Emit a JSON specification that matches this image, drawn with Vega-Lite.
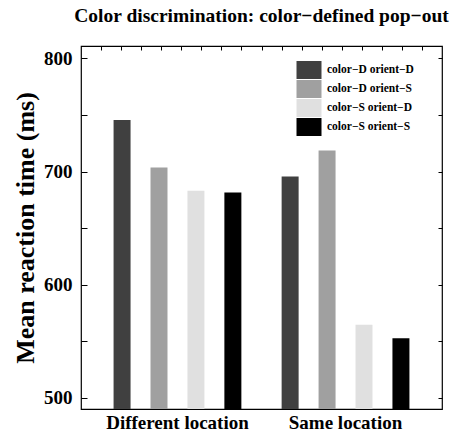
{
  "$schema": "https://vega.github.io/schema/vega-lite/v6.json",
  "autosize": "none",
  "padding": {"left": 81, "top": 46, "right": 8, "bottom": 37},
  "width": 361,
  "height": 363,
  "background": "white",
  "title": {
    "text": "Color discrimination: color−defined pop−out",
    "font": "Liberation Serif",
    "fontSize": 19.5,
    "fontWeight": "bold",
    "color": "black",
    "anchor": "middle",
    "offset": 19
  },
  "config": {
    "view": {"stroke": "black", "strokeWidth": 1.2},
    "axis": {"grid": false, "domain": false, "tickColor": "black", "labelColor": "black", "titleColor": "black"}
  },
  "data": {
    "values": [
      {"location": "Different location", "condition": "color−D orient−D", "rt": 745.5},
      {"location": "Different location", "condition": "color−D orient−S", "rt": 703.5},
      {"location": "Different location", "condition": "color−S orient−D", "rt": 683},
      {"location": "Different location", "condition": "color−S orient−S", "rt": 681.5},
      {"location": "Same location", "condition": "color−D orient−D", "rt": 695.5},
      {"location": "Same location", "condition": "color−D orient−S", "rt": 718.5},
      {"location": "Same location", "condition": "color−S orient−D", "rt": 564.5},
      {"location": "Same location", "condition": "color−S orient−S", "rt": 552.5}
    ]
  },
  "resolve": {"scale": {"x": "independent"}, "axis": {"x": "independent", "y": "independent"}},
  "layer": [
    {
      "mark": {"type": "bar", "clip": true},
      "encoding": {
        "x": {
          "field": "location", "type": "nominal",
          "sort": ["Different location", "Same location"],
          "scale": {"paddingInner": 0, "paddingOuter": 0.074},
          "axis": {"orient": "bottom", "title": null, "ticks": false, "labelAngle": 0, "labelFont": "Liberation Serif", "labelFontWeight": "bold", "labelFontSize": 19, "labelPadding": 4}
        },
        "xOffset": {
          "field": "condition", "type": "nominal",
          "sort": ["color−D orient−D", "color−D orient−S", "color−S orient−D", "color−S orient−S"],
          "scale": {"paddingInner": 0.54, "paddingOuter": 0.545}
        },
        "y": {
          "field": "rt", "type": "quantitative",
          "scale": {"domain": [490, 811], "zero": false, "nice": false},
          "axis": {
            "orient": "left",
            "values": [500, 550, 600, 650, 700, 750, 800],
            "labelExpr": "datum.value % 100 == 0 ? datum.label : ''",
            "tickSize": -6,
            "labelPadding": 15,
            "labelFont": "Liberation Serif", "labelFontWeight": "bold", "labelFontSize": 19,
            "title": "Mean reaction time (ms)",
            "titleFont": "Liberation Serif", "titleFontWeight": "bold", "titleFontSize": 26,
            "titlePadding": 5
          }
        },
        "color": {
          "field": "condition", "type": "nominal",
          "sort": ["color−D orient−D", "color−D orient−S", "color−S orient−D", "color−S orient−S"],
          "scale": {"range": ["#404040", "#a0a0a0", "#e0e0e0", "#000000"]},
          "legend": {
            "orient": "none", "legendX": 218, "legendY": 14,
            "title": null, "padding": 0,
            "symbolType": "M-1.25,-0.9L1.25,-0.9L1.25,0.9L-1.25,0.9Z",
            "symbolSize": 400, "symbolStrokeWidth": 0, "symbolOpacity": 1,
            "rowPadding": -1.7,
            "labelFont": "Liberation Serif", "labelFontWeight": "bold", "labelFontSize": 11.5, "labelColor": "black",
            "labelOffset": 8
          }
        }
      }
    },
    {
      "mark": {"type": "rule", "opacity": 0},
      "encoding": {
        "y": {
          "field": "rt", "type": "quantitative",
          "axis": {"orient": "right", "values": [500, 550, 600, 650, 700, 750, 800], "labels": false, "title": null, "tickSize": -4}
        }
      }
    },
    {
      "data": {"values": [{"t": 0}, {"t": 18}]},
      "mark": {"type": "rule", "opacity": 0},
      "encoding": {
        "x": {
          "field": "t", "type": "quantitative",
          "scale": {"domain": [0, 18], "nice": false, "zero": false},
          "axis": {"orient": "top", "values": [1, 2, 3, 4, 5, 6, 7, 8, 9, 10, 11, 12, 13, 14, 15, 16, 17], "labels": false, "title": null, "tickSize": -4}
        }
      }
    }
  ]
}
